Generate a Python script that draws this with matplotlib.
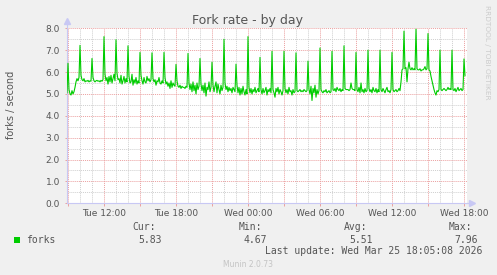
import matplotlib
matplotlib.use('Agg')
from matplotlib import pyplot as plt
from matplotlib.lines import Line2D
from matplotlib.ticker import MultipleLocator

# Hourly fork spikes (Tue 09:00 .. Wed 18:00).
spike_hours = list(range(9, 43))
spikes = [6.40, 7.22, 6.62, 7.62, 7.48, 7.20, 6.90, 6.88, 6.90, 6.35,
          6.85, 6.62, 6.45, 7.50, 6.36, 7.62, 6.67, 6.95, 6.95, 6.88,
          6.50, 7.10, 6.95, 7.20, 6.90, 7.00, 7.00, 6.90, 7.87, 7.96,
          7.76, 7.00, 7.00, 6.60]

# 5 minute samples after each spike (:05 .. :55).
between = [
    [5.20, 5.00, 4.95, 5.15, 5.00, 5.10, 5.30, 5.55, 5.70, 5.60, 5.75],
    [5.85, 5.65, 5.60, 5.70, 5.55, 5.60, 5.58, 5.62, 5.55, 5.60, 5.58],
    [5.75, 5.60, 5.55, 5.60, 5.62, 5.58, 5.60, 5.55, 5.62, 5.58, 5.65],
    [5.90, 5.60, 5.75, 5.45, 5.80, 5.55, 5.85, 5.50, 5.70, 5.90, 5.60],
    [5.95, 5.65, 5.70, 5.50, 5.85, 5.45, 5.60, 5.80, 5.50, 5.70, 5.55],
    [5.80, 5.50, 5.55, 5.90, 5.40, 5.65, 5.50, 5.75, 5.45, 5.60, 5.50],
    [5.85, 5.60, 5.45, 5.75, 5.55, 5.50, 5.80, 5.60, 5.70, 5.55, 5.65],
    [5.70, 5.55, 5.65, 5.40, 5.60, 5.55, 5.75, 5.50, 5.45, 5.60, 5.50],
    [5.75, 5.45, 5.55, 5.35, 5.50, 5.25, 5.60, 5.30, 5.50, 5.40, 5.35],
    [5.60, 5.35, 5.30, 5.40, 5.25, 5.35, 5.30, 5.30, 5.25, 5.35, 5.30],
    [5.50, 5.20, 5.45, 5.10, 5.55, 5.15, 5.40, 5.00, 5.50, 5.20, 5.35],
    [5.45, 5.15, 5.40, 5.05, 5.50, 4.90, 5.30, 5.20, 5.55, 5.10, 5.30],
    [5.40, 5.10, 5.35, 5.55, 5.05, 5.45, 5.20, 5.00, 5.40, 5.15, 5.30],
    [5.50, 5.20, 5.35, 5.10, 5.30, 5.15, 5.25, 5.05, 5.30, 5.20, 5.10],
    [5.40, 5.05, 5.30, 4.95, 5.25, 5.00, 5.35, 5.10, 4.95, 5.20, 5.00],
    [5.30, 5.05, 5.25, 5.00, 5.20, 5.10, 5.30, 5.05, 5.15, 5.25, 5.10],
    [5.20, 5.00, 5.25, 5.05, 5.15, 5.30, 4.95, 5.20, 5.10, 5.25, 5.05],
    [5.20, 5.05, 4.85, 5.25, 5.10, 5.30, 5.00, 5.20, 5.10, 4.95, 5.15],
    [5.25, 5.05, 5.20, 5.00, 5.30, 5.10, 5.15, 4.95, 5.20, 5.05, 5.10],
    [5.15, 5.10, 5.15, 5.20, 5.10, 5.15, 5.10, 5.20, 5.15, 5.10, 5.15],
    [5.20, 5.00, 5.35, 4.70, 5.25, 5.05, 5.40, 4.85, 5.20, 5.00, 5.15],
    [5.20, 5.10, 5.05, 5.15, 5.10, 5.20, 5.05, 5.10, 5.15, 5.05, 5.10],
    [5.20, 5.15, 5.25, 5.10, 5.30, 5.20, 5.15, 5.25, 5.10, 5.20, 5.15],
    [5.25, 5.20, 5.20, 5.20, 5.15, 5.20, 5.50, 5.25, 5.20, 5.20, 5.15],
    [5.20, 5.10, 5.30, 5.05, 5.50, 5.10, 5.20, 5.05, 5.25, 5.10, 5.15],
    [5.25, 5.10, 5.20, 5.05, 5.30, 5.15, 5.10, 5.25, 5.05, 5.20, 5.10],
    [5.20, 5.10, 5.25, 5.15, 5.05, 5.20, 5.30, 5.10, 5.15, 5.05, 5.20],
    [5.20, 5.10, 5.15, 5.20, 5.10, 5.15, 5.25, 5.15, 5.55, 6.10, 6.15],
    [6.15, 6.20, 5.55, 6.15, 6.45, 6.15, 6.10, 6.20, 6.10, 6.15, 6.10],
    [6.15, 6.10, 6.10, 6.15, 6.05, 6.10, 6.10, 6.15, 6.25, 6.10, 6.15],
    [6.10, 6.05, 5.80, 5.60, 5.40, 5.20, 5.05, 4.95, 5.15, 5.10, 5.20],
    [5.20, 5.15, 5.20, 5.25, 5.20, 5.15, 5.20, 5.30, 5.20, 5.25, 5.20],
    [5.20, 5.15, 5.25, 5.10, 5.20, 5.30, 5.15, 5.20, 5.25, 5.15, 5.20],
    [5.83],
]
first_value = 5.05  # Tue 08:55

tick_hours = [12, 18, 24, 30, 36, 42]
tick_labels = ['Tue 12:00', 'Tue 18:00', 'Wed 00:00', 'Wed 06:00', 'Wed 12:00', 'Wed 18:00']

stat_names = ['Cur:', 'Min:', 'Avg:', 'Max:']
stat_values = ['5.83', '4.67', '5.51', '7.96']

# Build the time series (hours since Tue 00:00).
times, values = [8 + 55 / 60], [first_value]
for h, peak, rest in zip(spike_hours, spikes, between):
    times.append(h)
    values.append(peak)
    for j, v in enumerate(rest):
        times.append(h + (j + 1) * 5 / 60)
        values.append(v)

W, H = 497, 275
text_col = '#555555'
mgrid = '#eba0a0'
grid = '#cfcfcf'
axis_col = '#c8c8f4'

fig = plt.figure(figsize=(W / 100, H / 100), dpi=100, facecolor='#f0f0f0')
ax = fig.add_axes([67 / W, 1 - 203.3 / H, 400 / W, 175 / H])
ax.set_facecolor('white')

ax.plot(times, values, color='#00cc00', linewidth=0.8, zorder=3)

x0 = 8 + 55 / 60
ax.set_xlim(x0, x0 + 400 / 12)
ax.set_ylim(0, 8)

# x ticks: major every 3 hours, labelled every 6 hours
major_x = list(range(9, 43, 3))
ax.set_xticks(major_x)
ax.set_xticklabels([tick_labels[tick_hours.index(h)] if h in tick_hours else '' for h in major_x])
ax.xaxis.set_minor_locator(MultipleLocator(1))
ax.yaxis.set_major_locator(MultipleLocator(1))
ax.yaxis.set_minor_locator(MultipleLocator(0.5))
ax.set_yticklabels(['%.1f' % t for t in ax.get_yticks()])

ax.grid(which='minor', color=grid, linestyle=(0, (1, 1)), linewidth=0.7, zorder=1)
ax.grid(which='major', color=mgrid, linestyle=(0, (1, 1)), linewidth=0.7, zorder=2)
ax.set_axisbelow(True)

ax.tick_params(which='major', color=mgrid, labelcolor=text_col, labelsize=6.5, width=0.7)
ax.tick_params(axis='x', which='major', length=2.2, pad=2)
ax.tick_params(axis='y', which='major', length=1.5, pad=3.5)
ax.tick_params(which='minor', length=0)

for s in ['top', 'right']:
    ax.spines[s].set_visible(False)
for s in ['left', 'bottom']:
    ax.spines[s].set_color(axis_col)
    ax.spines[s].set_linewidth(0.8)

# axis arrows
ax.add_line(Line2D([0, 0], [1, 1.035], transform=ax.transAxes, color=axis_col,
                   linewidth=0.8, clip_on=False))
ax.add_line(Line2D([1, 1.01], [0, 0], transform=ax.transAxes, color=axis_col,
                   linewidth=0.8, clip_on=False))
ax.plot([0], [1.04], marker='^', markersize=4, color=axis_col, transform=ax.transAxes, clip_on=False)
ax.plot([1.012], [0], marker='>', markersize=4, color=axis_col, transform=ax.transAxes, clip_on=False)


def put(x, y, s, **kw):
    fig.text(x / W, 1 - y / H, s, **kw)


put(247.5, 24.3, 'Fork rate - by day', ha='center', va='baseline', fontsize=9, color=text_col)
put(11.5, 105, 'forks / second', ha='center', va='center', rotation=90, fontsize=7, color=text_col)
put(487.5, 5, 'RRDTOOL / TOBI OETIKER', ha='center', va='top', rotation=270, fontsize=5.3,
    color='#cccccc')

mono = dict(family='DejaVu Sans Mono', fontsize=7, color=text_col, va='baseline')
fig.patches.append(plt.Rectangle((14 / W, 1 - 242.7 / H), 6 / W, 6 / H, transform=fig.transFigure,
                                 facecolor='#00cc00', edgecolor='none'))
put(26, 242.7, 'forks', ha='left', **mono)
for name, val, xr in zip(stat_names, stat_values, [156.3, 262.3, 367.3, 472.3]):
    put(xr, 230.3, name, ha='right', **mono)
    put(xr + 5.2, 242.7, val, ha='right', **mono)
put(482.5, 254, 'Last update: Wed Mar 25 18:05:08 2026', ha='right', **mono)
put(248, 267.3, 'Munin 2.0.73', ha='center', va='baseline', fontsize=5.5, color='#c4c4c4')

fig.savefig('out.png', dpi=100, facecolor=fig.get_facecolor())
